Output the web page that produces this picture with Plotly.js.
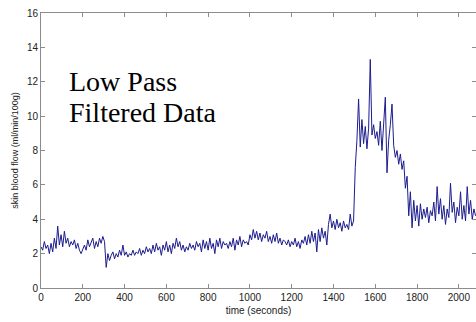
<!DOCTYPE html>
<html>
<head>
<meta charset="utf-8">
<script src="https://cdn.plot.ly/plotly-3.0.1.min.js"></script>
<style>html,body{margin:0;padding:0;background:#fff;}#chart{width:476px;height:322px;}</style>
</head>
<body>
<div id="chart"></div>
<script>
// sampling interval of the recording (seconds)
const sampleStep = 8;
// skin blood flow (ml/min/100g), one value per sample
const flowValues = [
  2.4,2.2,2.7,2.3,2.5,2.0,2.6,2.1,2.9,2.3,3.6,2.5,3.1,2.4,3.3,2.6,2.9,2.4,2.7,2.5,
  2.8,2.3,2.6,2.2,2.0,2.3,2.5,2.2,2.8,2.4,2.6,2.9,2.3,2.7,2.4,2.9,2.6,3.0,2.7,1.2,
  2.0,1.6,1.9,2.1,1.7,2.0,1.8,2.2,1.9,2.5,1.9,2.1,1.8,2.0,1.9,2.2,1.9,2.1,2.0,2.3,
  1.9,2.2,2.0,2.4,2.1,2.3,2.0,2.5,2.1,2.6,2.2,2.4,1.9,2.5,2.2,2.7,2.1,2.5,2.0,2.6,
  2.3,2.9,2.4,2.7,2.2,2.5,2.1,2.4,2.2,2.6,2.3,2.5,2.2,2.7,2.4,2.6,2.1,2.8,2.3,2.7,
  2.2,2.9,2.3,2.6,2.0,2.8,2.4,2.9,2.3,2.7,2.5,2.6,2.3,2.7,2.4,2.9,2.2,2.8,2.5,3.0,
  2.4,2.8,2.6,2.7,2.5,3.1,2.8,3.4,2.9,3.3,2.8,3.2,2.7,3.1,2.9,3.3,2.7,3.0,2.6,3.1,
  2.7,3.2,2.6,2.9,2.5,2.8,2.7,2.5,2.8,2.4,2.7,2.5,2.9,2.4,2.7,2.3,2.8,2.6,3.0,2.5,
  3.1,2.6,3.3,2.7,3.2,2.1,3.4,2.7,3.5,2.9,3.3,2.5,3.7,4.3,3.5,3.9,3.4,4.0,3.5,3.8,
  3.3,3.9,3.5,3.7,3.4,4.3,3.6,3.9,7.0,8.6,11.0,8.2,9.8,8.4,9.4,8.1,9.3,13.3,8.9,9.5,
  8.7,9.1,8.3,9.7,8.0,9.9,11.1,6.7,8.6,9.5,10.7,8.3,7.6,8.0,7.2,7.8,6.9,7.4,5.8,6.5,
  4.2,5.6,3.5,5.1,3.9,4.8,3.6,4.9,4.0,4.6,4.1,4.7,3.8,4.5,4.2,5.0,3.9,5.9,4.3,5.2,
  4.0,4.8,3.7,4.6,4.1,6.1,4.4,5.0,3.8,4.7,4.2,5.6,4.0,4.8,3.9,5.9,4.3,5.1,4.0,4.6,
  4.2
];
const timeValues = flowValues.map((_, i) => i * sampleStep);
const xTickVals = [0,200,400,600,800,1000,1200,1400,1600,1800,2000];
const yTickVals = [0,2,4,6,8,10,12,14,16];
const labelLines = ["Low Pass", "Filtered Data"];

const axisCommon = {
  showline: true, linecolor: '#8c8c8c', linewidth: 1,
  mirror: 'ticks', ticks: 'inside', ticklen: 4, tickcolor: '#8c8c8c', tickwidth: 1,
  showgrid: false, zeroline: false,
  tickfont: {family: 'Liberation Sans, Arial, sans-serif', size: 10, color: '#222'}
};

Plotly.newPlot('chart', [{
  x: timeValues, y: flowValues, type: 'scatter', mode: 'lines',
  line: {color: '#1c1c8e', width: 1}, hoverinfo: 'none'
}], {
  width: 476, height: 322,
  margin: {l: 41, r: 0, t: 13, b: 34},
  paper_bgcolor: '#fff', plot_bgcolor: '#fff',
  showlegend: false,
  xaxis: Object.assign({}, axisCommon, {
    range: [0, 2082], tickvals: xTickVals,
    title: {text: 'time (seconds)', standoff: 4,
      font: {family: 'Liberation Sans, Arial, sans-serif', size: 10, color: '#222'}}
  }),
  yaxis: Object.assign({}, axisCommon, {
    range: [0, 16], tickvals: yTickVals,
    title: {text: 'skin blood flow (ml/min/100g)', standoff: 6,
      font: {family: 'Liberation Sans, Arial, sans-serif', size: 9, color: '#222'}}
  }),
  annotations: labelLines.map((t, i) => ({
    text: t, xref: 'x', yref: 'y', x: 124, y: [12.0, 10.2][i],
    xanchor: 'left', yanchor: 'middle', showarrow: false,
    font: {family: 'Liberation Serif, Times New Roman, serif', size: 28, color: '#000'}
  }))
}, {staticPlot: true});
</script>
</body>
</html>
